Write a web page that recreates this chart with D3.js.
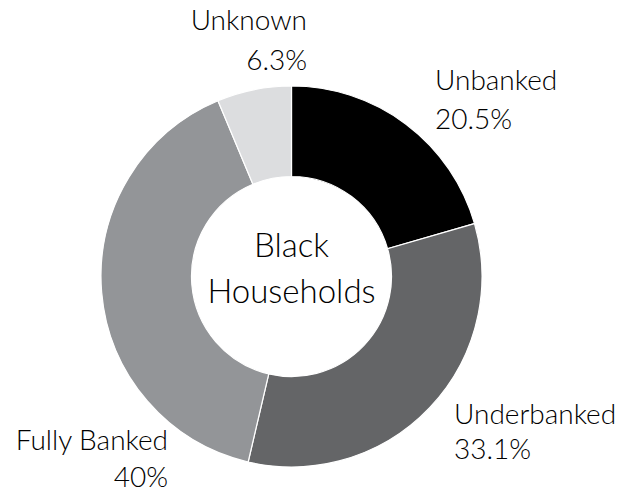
<!DOCTYPE html>
<html>
<head>
<meta charset="utf-8">
<script src="https://cdn.jsdelivr.net/npm/d3@7"></script>
<style>
  html, body { margin: 0; padding: 0; background: #ffffff; }
  svg { display: block; }
  text { font-family: "Lato", "Noto Sans", sans-serif; font-weight: 300; fill: #000; }
</style>
</head>
<body>
<svg id="chart" width="642" height="496"></svg>
<script>
// Data
const categories = ["Unbanked", "Underbanked", "Fully Banked", "Unknown"];
const values = [20.5, 33.1, 40, 6.3];
const valueLabels = ["20.5%", "33.1%", "40%", "6.3%"];
const colors = ["#000000", "#646567", "#939598", "#dcdddf"];
const centerLines = ["Black", "Households"];

const width = 642, height = 496;
const cx = 291.5, cy = 276.5;
const outerR = 190.5, innerR = 100;

const svg = d3.select("#chart");
const g = svg.append("g").attr("transform", `translate(${cx},${cy})`);

const data = categories.map((c, i) => ({ name: c, value: values[i], label: valueLabels[i], color: colors[i] }));

const pie = d3.pie().value(d => d.value).sort(null);
const arc = d3.arc().innerRadius(innerR).outerRadius(outerR);

const arcs = pie(data);

g.selectAll("path.slice")
  .data(arcs)
  .enter().append("path")
  .attr("class", "slice")
  .attr("d", arc)
  .attr("fill", d => d.data.color)
  .attr("stroke", "#ffffff")
  .attr("stroke-width", 1.2)
  .attr("stroke-linejoin", "miter");

// Label placement (layout only, keyed by category)
const labelLayout = {
  "Unbanked":     { x: 435, y1: 90,  y2: 129, anchor: "start" },
  "Underbanked":  { x: 454, y1: 424, y2: 459, anchor: "start" },
  "Fully Banked": { x: 168, y1: 450, y2: 487, anchor: "end" },
  "Unknown":      { x: 307, y1: 30,  y2: 70,  anchor: "end" }
};

const labels = svg.append("g").attr("class", "labels");
arcs.forEach(a => {
  const L = labelLayout[a.data.name];
  const t = labels.append("text")
    .attr("text-anchor", L.anchor)
    .attr("font-size", 28);
  t.append("tspan").attr("x", L.x).attr("y", L.y1).text(a.data.name);
  t.append("tspan").attr("x", L.x).attr("y", L.y2).text(a.data.label);
});

// Center text
const ct = g.append("text")
  .attr("text-anchor", "middle")
  .attr("font-size", 33);
ct.append("tspan").attr("x", 0).attr("y", -20).text(centerLines[0]);
ct.append("tspan").attr("x", 0).attr("y", 26).text(centerLines[1]);
</script>
</body>
</html>
